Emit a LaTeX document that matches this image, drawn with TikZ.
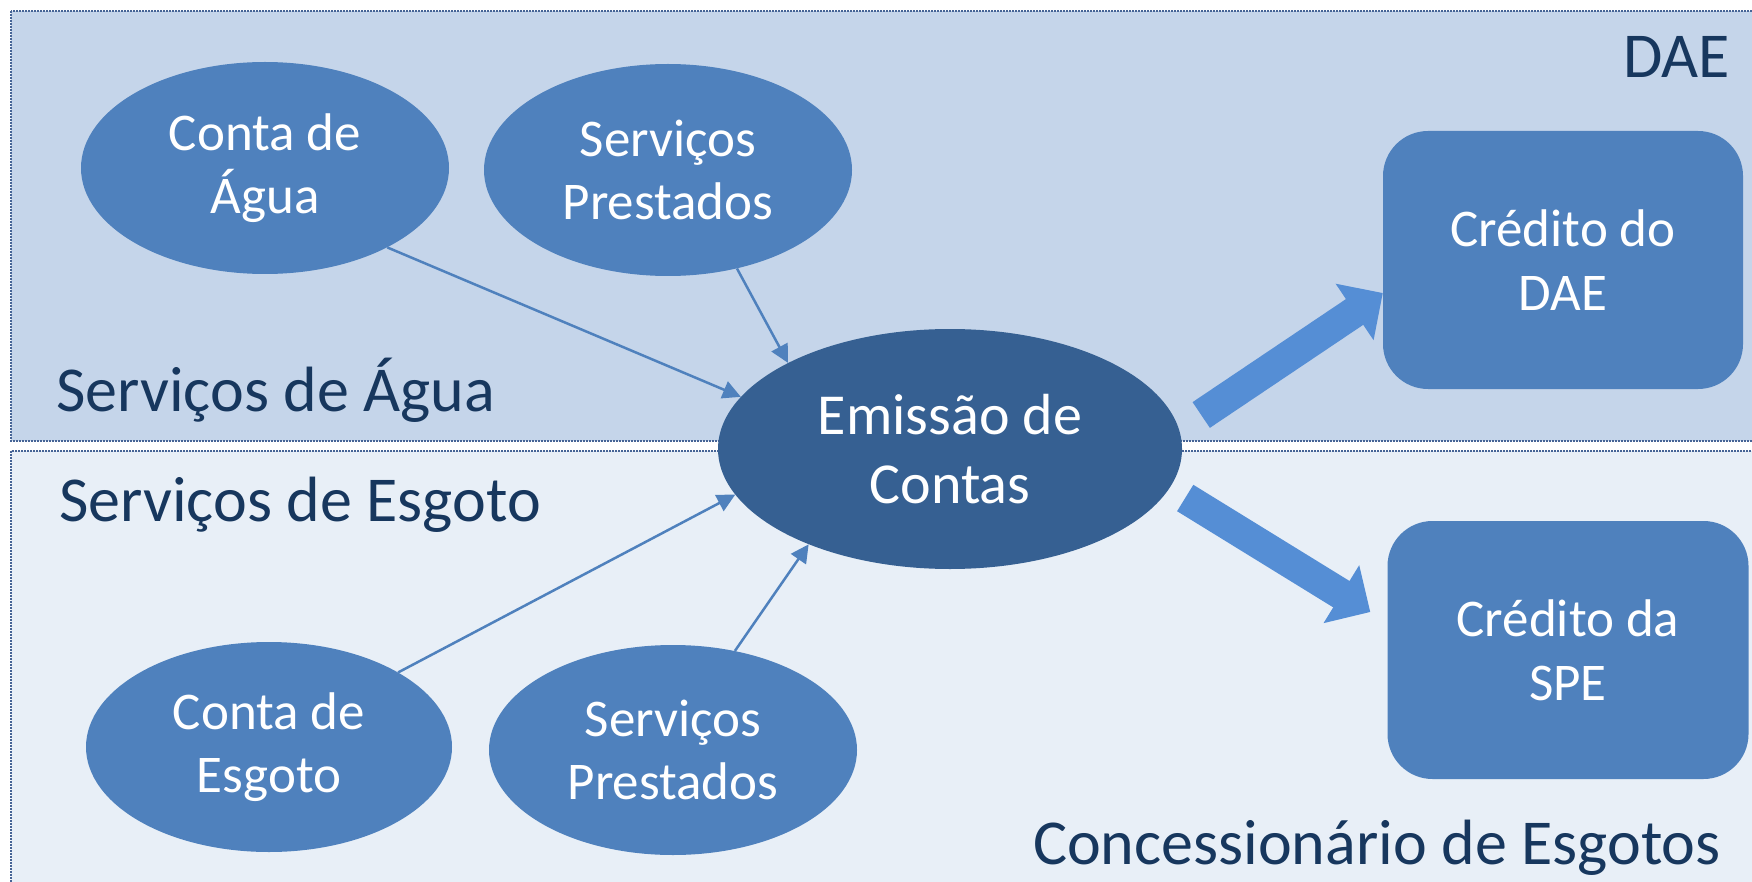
\documentclass[tikz,border=0pt]{standalone}
\usepackage{fontspec}
\setmainfont{Carlito}
\usetikzlibrary{shapes.geometric,arrows.meta,calc}
\definecolor{bandtop}{RGB}{197,213,234}
\definecolor{bandbot}{RGB}{232,239,247}
\definecolor{bandline}{RGB}{70,100,150}
\definecolor{nodeblue}{RGB}{79,129,189}
\definecolor{darkblue}{RGB}{54,96,146}
\definecolor{bigarrow}{RGB}{85,142,213}
\definecolor{labelcol}{RGB}{23,55,94}
\tikzset{
  band/.style={draw=bandline,line width=1.2pt,dash pattern=on 2pt off 1pt},
  ell/.style={ellipse,fill=nodeblue,inner sep=0pt,text=white,align=center,
    minimum width=368pt,minimum height=212pt,font=\fontsize{53}{63}\selectfont},
  rbox/.style={rectangle,rounded corners=45pt,fill=nodeblue,inner sep=0pt,text=white,align=center,
    minimum width=360pt,minimum height=258pt,font=\fontsize{53}{64}\selectfont},
  lbl/.style={text=labelcol,inner sep=0pt,font=\fontsize{64}{77}\selectfont},
  thinarrow/.style={draw=nodeblue,line width=2.5pt,-{Triangle[width=18pt,length=18pt]}},
  fatarrow/.style={draw=bigarrow,line width=31pt,-{Triangle[width=66pt,length=34pt]}}
}
\begin{document}
\begin{tikzpicture}[x=1pt,y=-1pt]
\useasboundingbox (0,0) rectangle (1752,882);
\fill[white] (0,0) rectangle (1752,882);
\begin{scope}
\clip (0,0) rectangle (1752,882);
\draw[band,fill=bandtop] (11,11) rectangle (1770,441);
\draw[band,fill=bandbot] (11,451) rectangle (1770,900);
\end{scope}
\node[lbl,anchor=base east] (lDAE) at (1730,78) {DAE};
\node[lbl,anchor=base west] (lAgua) at (56,411) {Serviços de Água};
\node[lbl,anchor=base west] (lEsg) at (59,521) {Serviços de Esgoto};
\node[lbl,anchor=base east] (lConc) at (1721,864) {Concessionário de Esgotos};

\node[ell] (aguaConta) at (265,168) {Conta de\\Água};
\node[ell] (aguaServ) at (668,170) {Serviços\\Prestados};
\node[ell,fill=darkblue,minimum width=464pt,minimum height=240pt,font=\fontsize{58}{69}\selectfont] (emissao) at (950,449) {Emissão de\\Contas};
\node[ell,minimum width=366pt,minimum height=210pt] (esgConta) at (269,747) {Conta de\\Esgoto};
\node[ell,minimum height=210pt] (esgServ) at (673,750) {Serviços\\Prestados};
\node[rbox] (dae) at (1563,260) {Crédito do\\DAE};
\node[rbox,minimum width=361pt] (spe) at (1568,650) {Crédito da\\SPE};

\draw[thinarrow] (aguaConta.-33) -- (emissao.166);
\draw[thinarrow] (aguaServ.-55) -- (emissao.152);
\draw[thinarrow] (esgConta.30) -- (emissao.192);
\draw[thinarrow] (esgServ.58) -- (emissao.214);

\coordinate (t1) at ($(emissao.east)+(19,-34)$);
\coordinate (h1) at ($(dae.west)+(0,33)$);
\coordinate (t2) at ($(emissao.east)+(3,49)$);
\coordinate (h2) at ($(spe.west)+(-17,-38)$);
\draw[fatarrow] (t1) -- (h1);
\draw[fatarrow] (t2) -- (h2);
\end{tikzpicture}
\end{document}
